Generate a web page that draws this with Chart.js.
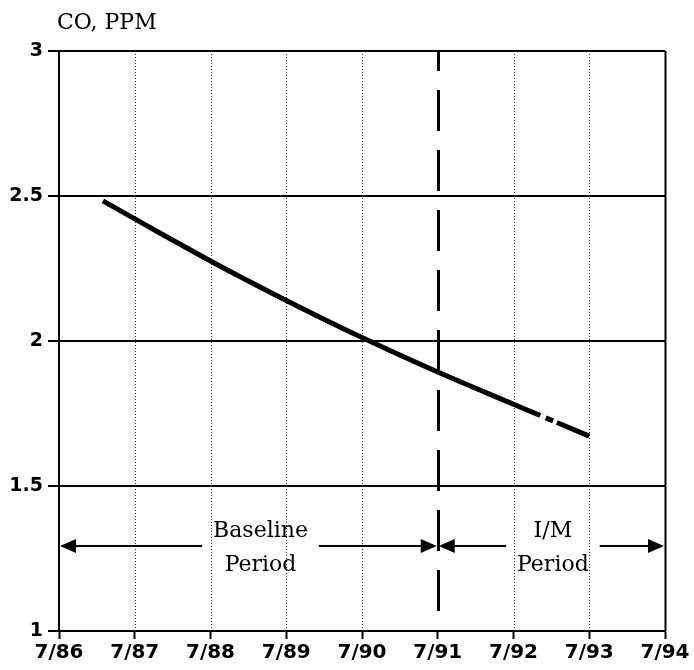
<!DOCTYPE html>
<html lang="en">

<head>
    <meta charset="UTF-8">
    <title>CO, PPM</title>
    <script src="https://cdn.jsdelivr.net/npm/chart.js"></script>
    <style>
        body { margin: 0; background: #fff; }
        canvas { display: block; }
    </style>
</head>

<body>
    <canvas id="grafico" width="694" height="670"></canvas>
</body>

</html>
<script>
    // anos contados a partir de 7/86
    var xTickLabels = ['7/86', '7/87', '7/88', '7/89', '7/90', '7/91', '7/92', '7/93', '7/94'];
    var yTickLabels = ['1', '1.5', '2', '2.5', '3'];
    var anos = [0.58, 1, 2, 3, 4, 5, 6, 7];
    var coPPM = [2.483, 2.421, 2.276, 2.140, 2.012, 1.893, 1.782, 1.672];

    var pontos = [];
    for (var i = 0; i < anos.length; i++) {
        pontos.push({ x: anos[i], y: coPPM[i] });
    }

    var serifFont = '"DejaVu Serif", serif';

    // linhas verticais, setas e textos
    const desenhos = {
        id: 'desenhos',
        beforeDatasetsDraw(chart) {
            const ctx = chart.ctx;
            const xs = chart.scales.x;
            const area = chart.chartArea;
            ctx.save();
            for (var k = 1; k < xTickLabels.length; k++) {
                var px = Math.round(xs.getPixelForValue(k)) + 0.5;
                ctx.beginPath();
                if (k === 5) {
                    ctx.setLineDash([41, 19]);
                    ctx.lineDashOffset = 21;
                    ctx.lineWidth = 3;
                    ctx.strokeStyle = '#000';
                } else if (k === xTickLabels.length - 1) {
                    ctx.setLineDash([]);
                    ctx.lineWidth = 2;
                    ctx.strokeStyle = '#000';
                } else {
                    ctx.setLineDash([1, 2]);
                    ctx.lineWidth = 1;
                    ctx.strokeStyle = '#333';
                }
                ctx.moveTo(px, area.top);
                ctx.lineTo(px, area.bottom);
                ctx.stroke();
            }
            ctx.restore();
        },
        afterDraw(chart) {
            const ctx = chart.ctx;
            const xs = chart.scales.x;
            const ys = chart.scales.y;
            const area = chart.chartArea;
            ctx.save();

            // titulo
            ctx.font = '22px ' + serifFont;
            ctx.fillStyle = '#000';
            ctx.textAlign = 'left';
            ctx.textBaseline = 'alphabetic';
            ctx.fillText('CO, PPM', area.left - 2, 29);

            var ay = ys.getPixelForValue(1.293);

            function seta(x1, x2, linhas, cx) {
                ctx.font = '22px ' + serifFont;
                var larg = 0;
                linhas.forEach(function (t) { larg = Math.max(larg, ctx.measureText(t).width); });
                var g1 = cx - larg / 2 - 11;
                var g2 = cx + larg / 2 + 11;
                ctx.strokeStyle = '#000';
                ctx.lineWidth = 2;
                ctx.setLineDash([]);
                ctx.beginPath();
                ctx.moveTo(x1 + 12, ay);
                ctx.lineTo(g1, ay);
                ctx.moveTo(g2, ay);
                ctx.lineTo(x2 - 12, ay);
                ctx.stroke();
                ctx.fillStyle = '#000';
                ctx.beginPath();
                ctx.moveTo(x1 + 1, ay);
                ctx.lineTo(x1 + 17, ay - 7);
                ctx.lineTo(x1 + 17, ay + 7);
                ctx.closePath();
                ctx.fill();
                ctx.beginPath();
                ctx.moveTo(x2 - 1, ay);
                ctx.lineTo(x2 - 17, ay - 7);
                ctx.lineTo(x2 - 17, ay + 7);
                ctx.closePath();
                ctx.fill();
                ctx.textAlign = 'center';
                ctx.textBaseline = 'middle';
                ctx.fillText(linhas[0], cx, ay - 15);
                ctx.fillText(linhas[1], cx, ay + 19);
            }

            seta(xs.getPixelForValue(0), xs.getPixelForValue(5), ['Baseline', 'Period'], xs.getPixelForValue(2.66));
            seta(xs.getPixelForValue(5), xs.getPixelForValue(8), ['I/M', 'Period'], xs.getPixelForValue(6.52));
            ctx.restore();
        }
    };

    const ctx = document.getElementById('grafico');

    new Chart(ctx, {
        type: 'line',
        data: {
            datasets: [{
                label: 'CO',
                data: pontos,
                borderColor: '#000',
                borderWidth: 5,
                pointRadius: 0,
                fill: false,
                cubicInterpolationMode: 'monotone',
                segment: {
                    borderDash: function (c) {
                        return c.p0DataIndex === anos.length - 2 ? [29, 6, 8, 4, 200] : undefined;
                    }
                }
            }]
        },
        options: {
            responsive: false,
            animation: false,
            layout: { padding: { top: 51, right: 29, left: 0, bottom: 0 } },
            plugins: {
                legend: { display: false },
                tooltip: { enabled: false }
            },
            scales: {
                x: {
                    type: 'linear',
                    min: 0,
                    max: 8,
                    afterFit: function (s) { s.height = 39; },
                    ticks: {
                        stepSize: 1,
                        autoSkip: false,
                        maxRotation: 0,
                        padding: 2,
                        color: '#000',
                        font: { family: '"DejaVu Sans", sans-serif', size: 20, weight: 'bold' },
                        callback: function (v) { return xTickLabels[v]; }
                    },
                    grid: {
                        drawOnChartArea: false,
                        tickLength: 8,
                        tickWidth: 2,
                        tickColor: '#000'
                    },
                    border: { color: '#000', width: 2 }
                },
                y: {
                    min: 1,
                    max: 3,
                    afterFit: function (s) { s.width = 59; },
                    ticks: {
                        stepSize: 0.5,
                        padding: 5,
                        color: '#000',
                        font: { family: '"DejaVu Sans", sans-serif', size: 19, weight: 'bold' },
                        callback: function (v, i) { return yTickLabels[i]; }
                    },
                    grid: {
                        color: '#000',
                        lineWidth: 2,
                        tickLength: 11
                    },
                    border: { color: '#000', width: 2 }
                }
            }
        },
        plugins: [desenhos]
    });
</script>
